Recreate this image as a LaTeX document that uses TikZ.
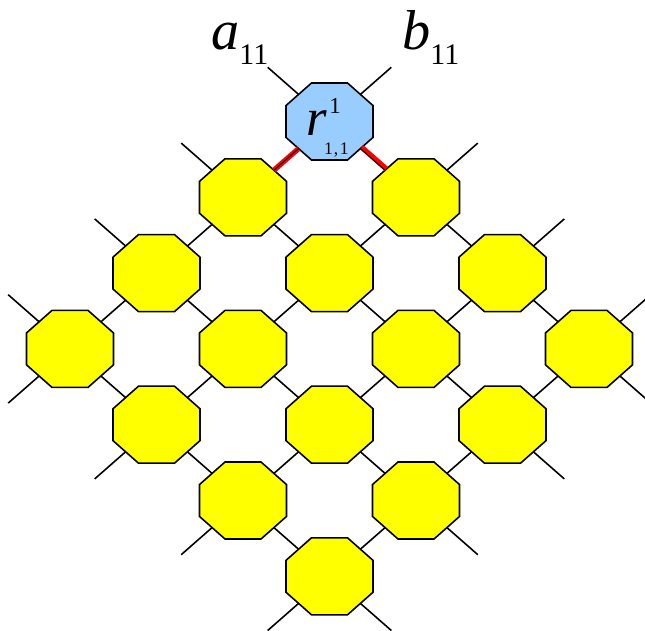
\documentclass[tikz,border=0pt]{standalone}
\usepackage{fontspec}
\setmainfont{Liberation Serif}
\usetikzlibrary{shapes.geometric}
\definecolor{cellfill}{HTML}{FFFF00}
\definecolor{rootfill}{HTML}{99CCFF}
\definecolor{hot}{HTML}{FF0000}

\begin{document}
\begin{tikzpicture}[x=0.02cm,y=-0.02cm,
 cell/.style={regular polygon,regular polygon sides=8,draw=black,line width=0.9pt,fill=cellfill,minimum size=1.667cm,xscale=1.13,outer sep=0pt},
 root/.style={cell,fill=rootfill},
 link/.style={line width=0.9pt},
 hotlink/.style={line width=3pt,color=hot},
 leg/.style={inner sep=0pt,anchor=base west,font=\fontsize{32}{32}\selectfont}]
\clip (0,0) rectangle (645,631);
\useasboundingbox (0,0) rectangle (645,631);
\node[root] (n11) at (329.5,121.5) {\makebox[0pt][l]{\scalebox{0.885}[1]{\hspace{-13.3pt}\raisebox{-7.7pt}[0pt][0pt]{{\fontsize{30}{30}\selectfont\textit{r}}\rlap{\raisebox{12pt}{\fontsize{13}{13}\selectfont\hspace{1.5pt}1}}\hspace{-1.5pt}\raisebox{-11.3pt}{\fontsize{10}{10}\selectfont 1\hspace{0.5pt},\hspace{1pt}1}}}}};
\node[cell] (n12) at (416,197.3) {};
\node[cell] (n13) at (502.5,273.1) {};
\node[cell] (n14) at (589,348.9) {};
\node[cell] (n21) at (243,197.3) {};
\node[cell] (n22) at (329.5,273.1) {};
\node[cell] (n23) at (416,348.9) {};
\node[cell] (n24) at (502.5,424.7) {};
\node[cell] (n31) at (156.5,273.1) {};
\node[cell] (n32) at (243,348.9) {};
\node[cell] (n33) at (329.5,424.7) {};
\node[cell] (n34) at (416,500.5) {};
\node[cell] (n41) at (70,348.9) {};
\node[cell] (n42) at (156.5,424.7) {};
\node[cell] (n43) at (243,500.5) {};
\node[cell] (n44) at (329.5,576.3) {};
\node[leg] (la) at (211,50) {\textit{a}\raisebox{-8.5pt}{\fontsize{17}{17}\selectfont 11}};
\node[leg] (lb) at (402,50) {\textit{b}\raisebox{-8.5pt}{\fontsize{17}{17}\selectfont 11}};
\coordinate (s11ul) at (267.7,67.3);
\coordinate (s21ul) at (181.2,143.1);
\coordinate (s31ul) at (94.7,218.9);
\coordinate (s41ul) at (8.2,294.7);
\coordinate (s11ur) at (391.3,67.3);
\coordinate (s12ur) at (477.8,143.1);
\coordinate (s13ur) at (564.3,218.9);
\coordinate (s14ur) at (650.8,294.7);
\coordinate (s41ll) at (8.2,403.1);
\coordinate (s42ll) at (94.7,478.9);
\coordinate (s43ll) at (181.2,554.7);
\coordinate (s44ll) at (267.7,630.5);
\coordinate (s14lr) at (650.8,403.1);
\coordinate (s24lr) at (564.3,478.9);
\coordinate (s34lr) at (477.8,554.7);
\coordinate (s44lr) at (391.3,630.5);
\draw[hotlink] (n11)--(n21);
\draw[hotlink,transform canvas={shift={(1.2,-1.35)}}] (n11)--(n12);
\draw[link,line width=0.6pt] (n11)--(n21) (n11)--(n12);
\draw[link] (n12)--(n13) (n13)--(n14) (n21)--(n22) (n22)--(n23) (n23)--(n24)
 (n31)--(n32) (n32)--(n33) (n33)--(n34) (n41)--(n42) (n42)--(n43) (n43)--(n44);
\draw[link] (n21)--(n31) (n31)--(n41) (n12)--(n22) (n22)--(n32) (n32)--(n42)
 (n13)--(n23) (n23)--(n33) (n33)--(n43) (n14)--(n24) (n24)--(n34) (n34)--(n44);
\draw[link] (n11)--(s11ul) (n21)--(s21ul) (n31)--(s31ul) (n41)--(s41ul);
\draw[link] (n11)--(s11ur) (n12)--(s12ur) (n13)--(s13ur) (n14)--(s14ur);
\draw[link] (n41)--(s41ll) (n42)--(s42ll) (n43)--(s43ll) (n44)--(s44ll);
\draw[link] (n14)--(s14lr) (n24)--(s24lr) (n34)--(s34lr) (n44)--(s44lr);
\end{tikzpicture}
\end{document}
